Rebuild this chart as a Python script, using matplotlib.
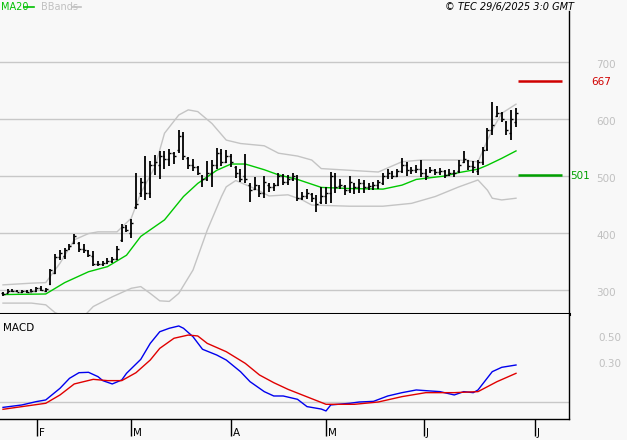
import matplotlib
matplotlib.use("Agg")
import matplotlib.pyplot as plt
import matplotlib.transforms as mtransforms

# ---------------- data (bar index = trading day) ----------------
highs = [296, 301, 301, 300, 300, 300, 301, 305, 307, 303,
         337, 364, 370, 374, 381, 399, 385, 381, 370, 369,
         350, 351, 356, 358, 377, 416, 414, 424, 505, 496,
         535, 527, 537, 544, 543, 547, 542, 581, 578, 534,
         529, 518, 502, 527, 528, 549, 547, 546, 539, 518,
         513, 539, 488, 498, 484, 500, 488, 488, 506, 503,
         501, 506, 501, 472, 477, 470, 467, 481, 481, 507,
         506, 494, 484, 500, 488, 495, 493, 487, 490, 493,
         505, 512, 508, 512, 531, 525, 515, 520, 528, 513,
         516, 513, 514, 510, 512, 510, 528, 543, 528, 526,
         528, 551, 584, 630, 623, 613, 597, 615, 619]
lows = [290, 294, 296, 296, 295, 295, 296, 296, 298, 296,
        308, 328, 353, 355, 371, 381, 367, 365, 358, 342,
        342, 342, 346, 348, 353, 385, 402, 392, 442, 463,
        458, 461, 502, 494, 512, 518, 521, 540, 528, 513,
        508, 502, 481, 492, 481, 513, 518, 523, 515, 496,
        490, 488, 455, 475, 464, 462, 472, 474, 482, 485,
        484, 492, 457, 458, 460, 455, 437, 451, 450, 452,
        470, 478, 467, 470, 468, 470, 471, 475, 476, 478,
        484, 494, 494, 499, 505, 500, 503, 505, 499, 493,
        505, 502, 502, 496, 500, 499, 506, 523, 511, 506,
        502, 519, 543, 572, 603, 595, 572, 563, 586]
opens = [295, 295, 298, 299, 297, 298, 297, 299, 303, 299,
         310, 330, 358, 360, 372, 383, 383, 372, 368, 360,
         345, 345, 348, 350, 355, 388, 410, 400, 445, 470,
         490, 470, 520, 520, 535, 530, 540, 545, 570, 532,
         520, 515, 500, 495, 505, 520, 540, 525, 535, 515,
         505, 500, 485, 478, 480, 470, 485, 480, 485, 500,
         490, 495, 498, 462, 465, 468, 460, 455, 465, 470,
         500, 482, 482, 475, 488, 480, 488, 480, 482, 485,
         488, 500, 505, 500, 508, 520, 508, 510, 512, 505,
         508, 510, 507, 508, 502, 506, 508, 525, 528, 518,
         508, 525, 548, 580, 605, 610, 595, 575, 595]
closes = [293, 298, 299, 297, 298, 297, 299, 303, 300, 302,
          335, 358, 365, 370, 378, 395, 372, 370, 362, 345,
          346, 348, 350, 355, 372, 410, 405, 418, 450, 490,
          470, 520, 525, 535, 530, 540, 535, 570, 535, 520,
          515, 505, 495, 505, 520, 540, 525, 535, 525, 505,
          495, 495, 475, 485, 470, 490, 480, 485, 500, 490,
          495, 500, 462, 465, 470, 462, 450, 465, 470, 500,
          480, 485, 475, 490, 480, 488, 480, 482, 485, 490,
          500, 505, 500, 508, 520, 510, 510, 512, 505, 500,
          510, 507, 508, 502, 506, 505, 520, 530, 518, 515,
          525, 545, 580, 590, 610, 600, 580, 600, 610]

ma20_idx = [0, 9, 13, 18, 22, 26, 29, 34, 38, 41, 45, 48, 51, 55, 58, 62,
            67, 73, 80, 84, 87, 93, 96, 100, 102, 105, 108]
ma20_val = [292, 293, 313, 332, 341, 361, 394, 423, 464, 487, 510, 521, 521,
            511, 502, 494, 480, 478, 477, 484, 494, 500, 506, 512, 519, 531, 544]

bb_up_idx = [0, 6, 9, 12, 15, 18, 20, 24, 27, 29, 32, 34, 37, 39, 41, 44, 47,
             50, 55, 58, 62, 65, 67, 73, 79, 84, 88, 93, 96, 100, 102, 103, 105, 108]
bb_up_val = [309, 312, 313, 347, 388, 399, 402, 402, 426, 470, 516, 575, 607,
             616, 613, 592, 563, 557, 553, 540, 535, 528, 513, 510, 507, 525,
             528, 528, 528, 525, 563, 581, 610, 626]
bb_lo_idx = [0, 6, 9, 11, 16, 19, 23, 27, 29, 31, 33, 35, 37, 40, 43, 46, 47,
             49, 53, 56, 60, 63, 65, 73, 80, 86, 91, 96, 100, 102, 103, 105, 108]
bb_lo_val = [277, 277, 274, 260, 245, 271, 288, 303, 306, 294, 281, 280, 294,
             335, 405, 464, 481, 492, 478, 465, 467, 458, 449, 447, 447, 452,
             464, 481, 493, 475, 461, 458, 461]

macd_idx = [0, 4, 7, 9, 12, 14, 16, 18, 20, 21, 23, 25, 26, 29, 31, 33, 35, 37,
            38, 40, 42, 45, 47, 50, 52, 55, 57, 59, 62, 64, 67, 68, 69, 73, 75,
            78, 81, 84, 87, 90, 92, 95, 97, 99, 100, 103, 105, 108]
macd_val = [-0.042, -0.023, 0.003, 0.016, 0.107, 0.185, 0.229, 0.232, 0.198,
            0.167, 0.141, 0.172, 0.224, 0.333, 0.458, 0.549, 0.576, 0.594,
            0.576, 0.510, 0.412, 0.367, 0.328, 0.237, 0.159, 0.081, 0.047,
            0.047, 0.021, -0.036, -0.055, -0.070, -0.023, -0.010, 0.0, 0.005,
            0.047, 0.073, 0.094, 0.086, 0.081, 0.055, 0.081, 0.073, 0.094,
            0.237, 0.271, 0.289]
sig_idx = [0, 4, 9, 12, 15, 19, 22, 25, 28, 31, 33, 36, 39, 41, 43, 47, 51, 54,
           57, 60, 63, 68, 74, 79, 84, 89, 95, 100, 104, 108]
sig_val = [-0.057, -0.036, -0.010, 0.055, 0.141, 0.177, 0.167, 0.167, 0.229,
           0.328, 0.419, 0.498, 0.523, 0.516, 0.458, 0.393, 0.302, 0.211,
           0.151, 0.099, 0.055, -0.018, -0.018, 0.0, 0.042, 0.073, 0.073,
           0.081, 0.159, 0.224]

month_pos = [7.16, 26.9, 48.0, 68.0, 88.6, 112.0]
month_lab = ["F", "M", "A", "M", "J", "J"]

price_ticks = [300, 400, 500, 600, 700]
resist_level = 667
support_level = 501
macd_ticks = [0.50, 0.30]
macd_tick_lab = ["0.50", "0.30"]

# ---------------- figure ----------------
BG = "#f8f8f8"
W, H = 627, 440
fig = plt.figure(figsize=(W / 100, H / 100), dpi=100, facecolor=BG)

def frac_box(x0, y0, x1, y1):
    return [x0 / W, 1 - y1 / H, (x1 - x0) / W, (y1 - y0) / H]

ax = fig.add_axes(frac_box(0, 11, 569, 314), facecolor=BG)
ax2 = fig.add_axes(frac_box(0, 314, 569, 419), facecolor=BG)

px = 4.75  # pixels per bar
xlim = (-3 / px, (569 - 3) / px)
ax.set_xlim(*xlim)
ax2.set_xlim(*xlim)
ax.set_ylim(500 - (314 - 176) / 0.57, 500 + (176 - 11) / 0.57)
ax2.set_ylim(-(419 - 402) / 128, (402 - 314) / 128)

# grid
for p in price_ticks:
    ax.axhline(p, color="#c8c8c8", lw=1.0, zorder=1)

# bollinger bands + MA20
ax.plot(bb_up_idx, bb_up_val, color="#c4c4c4", lw=1.0, zorder=2)
ax.plot(bb_lo_idx, bb_lo_val, color="#c4c4c4", lw=1.0, zorder=2)
ax.plot(ma20_idx, ma20_val, color="#00c800", lw=1.0, zorder=3)

# OHLC bars
xs = list(range(len(highs)))
tick = 0.42
ax.vlines(xs, lows, highs, color="black", lw=1.3, zorder=4)
ax.hlines(opens, [x - tick for x in xs], xs, color="black", lw=1.0, zorder=4)
ax.hlines(closes, xs, [x + tick for x in xs], color="black", lw=1.0, zorder=4)

# support / resistance
x_a, x_b = (518 - 3) / px, (562 - 3) / px
ax.hlines(resist_level, x_a, x_b, color="#d00000", lw=1.8, zorder=5)
ax.hlines(support_level, x_a, x_b, color="#00a000", lw=1.8, zorder=5)

bl = mtransforms.blended_transform_factory(ax.transAxes, ax.transData)
for p in price_ticks:
    ax.annotate(str(p), xy=(606 / 569, p), xycoords=bl, xytext=(0, -3),
                textcoords="offset pixels", ha="center", va="center",
                fontsize=7.5, color="#c0c0c0", annotation_clip=False)
ax.annotate(str(resist_level), xy=(601 / 569, resist_level), xycoords=bl,
            xytext=(0, -1), textcoords="offset pixels", ha="center", va="center",
            fontsize=7.5, color="#d00000", annotation_clip=False)
ax.annotate(str(support_level), xy=(570 / 569, support_level), xycoords=bl,
            xytext=(0, -1), textcoords="offset pixels", ha="left", va="center",
            fontsize=7.5, color="#00a000", annotation_clip=False)

# spines price
for s in ["left", "top"]:
    ax.spines[s].set_visible(False)
ax.spines["right"].set_color("black")
ax.spines["right"].set_linewidth(1.0)
ax.spines["bottom"].set_color("black")
ax.spines["bottom"].set_linewidth(2.2)
ax.set_xticks([])
ax.set_yticks([])

# MACD panel
ax2.axhline(0, color="#c8c8c8", lw=1.0, zorder=1)
ax2.plot(macd_idx, macd_val, color="#0000ee", lw=1.0, zorder=3)
ax2.plot(sig_idx, sig_val, color="#e00000", lw=1.0, zorder=3)
ax2.text(3 / 569, 0.87, "MACD", transform=ax2.transAxes, fontsize=7.5,
         ha="left", va="center", color="black")
bl2 = mtransforms.blended_transform_factory(ax2.transAxes, ax2.transData)
for v, lab in zip(macd_ticks, macd_tick_lab):
    ax2.annotate(lab, xy=(610 / 569, v), xycoords=bl2, ha="center", va="center",
                 fontsize=7.5, color="#c0c0c0", annotation_clip=False)
ax2.spines["left"].set_visible(False)
ax2.spines["top"].set_visible(False)
ax2.spines["right"].set_linewidth(1.0)
ax2.spines["bottom"].set_linewidth(1.0)
ax2.set_yticks([])
ax2.set_xticks(month_pos)
ax2.set_xticklabels([])
ax2.tick_params(axis="x", direction="out", length=12, width=1.0, color="black")
for pos, lab in zip(month_pos, month_lab):
    ax2.annotate(lab, xy=(pos, 0), xycoords=("data", "axes fraction"),
                 xytext=(2, -19), textcoords="offset pixels", ha="left",
                 va="bottom", fontsize=7.5, color="black", annotation_clip=False)

# header
fig.text(1 / W, 1 - 7 / H, "MA20", color="#00c000", fontsize=7, ha="left", va="center")
fig.add_artist(plt.Line2D([24 / W, 34 / W], [1 - 7 / H, 1 - 7 / H], color="#00c000", lw=1.2))
fig.text(41 / W, 1 - 7 / H, "BBands", color="#c0c0c0", fontsize=7, ha="left", va="center")
fig.add_artist(plt.Line2D([72 / W, 81 / W], [1 - 7 / H, 1 - 7 / H], color="#c0c0c0", lw=1.2))
fig.text(574 / W, 1 - 7 / H, "© TEC 29/6/2025 3:0 GMT", color="black", fontsize=7,
         style="italic", ha="right", va="center")

fig.savefig("out.png", dpi=100, facecolor=BG)
